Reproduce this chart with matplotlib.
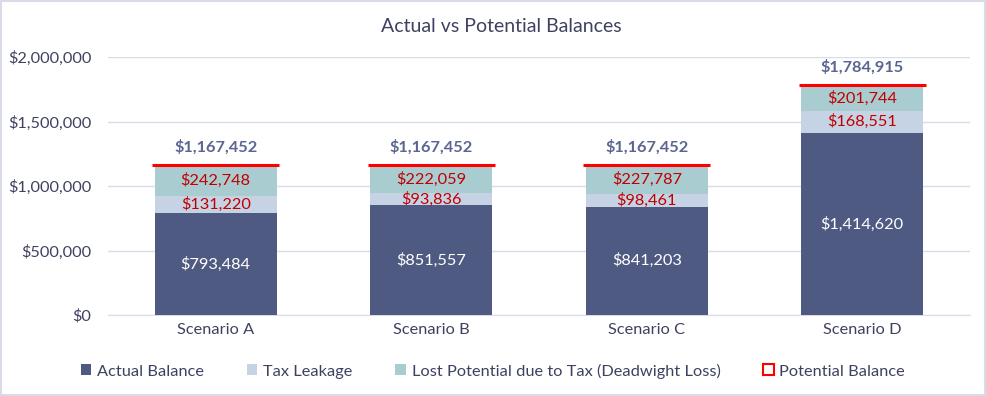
import matplotlib
matplotlib.use("Agg")
import matplotlib.pyplot as plt
from matplotlib.patches import Patch, Rectangle
from matplotlib.ticker import FuncFormatter
import numpy as np

categories = ["Scenario A", "Scenario B", "Scenario C", "Scenario D"]
actual_balance = [793484, 851557, 841203, 1414620]
tax_leakage = [131220, 93836, 98461, 168551]
lost_potential = [242748, 222059, 227787, 201744]
potential_balance = [1167452, 1167452, 1167452, 1784915]
yticks = [0, 500000, 1000000, 1500000, 2000000]

c_actual = "#4F5A82"
c_tax = "#C6D3E4"
c_lost = "#A9CCD0"
c_red = "#C00000"
c_line = "#FF0000"
c_text = "#3E4260"
c_total = "#5A6592"
c_grid = "#D9DCE8"

plt.rcParams['font.family'] = ['Lato', 'DejaVu Sans']

fig = plt.figure(figsize=(9.86, 3.96), dpi=100)
ax = fig.add_axes([0.1095, 0.2045, 0.8743, 0.651])

x = np.arange(len(categories))
w = 0.567
act = np.array(actual_balance)
tax = np.array(tax_leakage)
lost = np.array(lost_potential)

ax.bar(x, act, w, color=c_actual, zorder=3)
ax.bar(x, tax, w, bottom=act, color=c_tax, zorder=3)
ax.bar(x, lost, w, bottom=act + tax, color=c_lost, zorder=3)
ax.hlines(potential_balance, x - w / 2 - 0.012, x + w / 2 + 0.012, color=c_line, lw=2.2, zorder=4)

fs = 11.8
for i in range(len(categories)):
    ax.text(x[i], act[i] / 2, f"${act[i]:,}", ha="center", va="center", color="white", fontsize=fs, zorder=5)
    ax.text(x[i], act[i] + tax[i] / 2, f"${tax[i]:,}", ha="center", va="center", color=c_red, fontsize=fs, zorder=5)
    ax.text(x[i], act[i] + tax[i] + lost[i] / 2, f"${lost[i]:,}", ha="center", va="center", color=c_red, fontsize=fs, zorder=5)
    ax.annotate(f"${potential_balance[i]:,}", (x[i], potential_balance[i]), xytext=(0, 7),
                textcoords="offset points", ha="center", va="bottom", color=c_total,
                fontsize=fs, fontweight="bold", zorder=5)

ax.set_xlim(-0.5, len(categories) - 0.5)
ax.set_ylim(0, 2000000)
ax.set_yticks(yticks)
ax.yaxis.set_major_formatter(FuncFormatter(lambda v, p: f"${int(v):,}"))
ax.set_xticks(x)
ax.set_xticklabels(categories)
ax.tick_params(axis="both", length=0, labelsize=fs, colors=c_text)
ax.tick_params(axis="y", pad=12)
ax.tick_params(axis="x", pad=6)
ax.grid(axis="y", color=c_grid, lw=1, zorder=0)
for s in ["top", "right", "left"]:
    ax.spines[s].set_visible(False)
ax.spines["bottom"].set_color(c_grid)

fig.text(0.508, 0.934, "Actual vs Potential Balances", ha="center", va="center", fontsize=14, color=c_text)

handles = [Patch(facecolor=c_actual), Patch(facecolor=c_tax), Patch(facecolor=c_lost),
           Patch(facecolor="white", edgecolor=c_line, lw=1.5)]
labels = ["Actual Balance", "Tax Leakage", "Lost Potential due to Tax (Deadwight Loss)", "Potential Balance"]
leg = fig.legend(handles, labels, loc="center", bbox_to_anchor=(0.5, 0.063), ncol=4, frameon=False,
                 fontsize=fs, handlelength=0.65, handleheight=0.65, handletextpad=0.35, columnspacing=2.6)
for t in leg.get_texts():
    t.set_color(c_text)

fig.patches.append(Rectangle((0.001, 0.002), 0.998, 0.996, transform=fig.transFigure,
                             fill=False, edgecolor=c_grid, lw=1.5))

fig.savefig("out.png", dpi=100)
